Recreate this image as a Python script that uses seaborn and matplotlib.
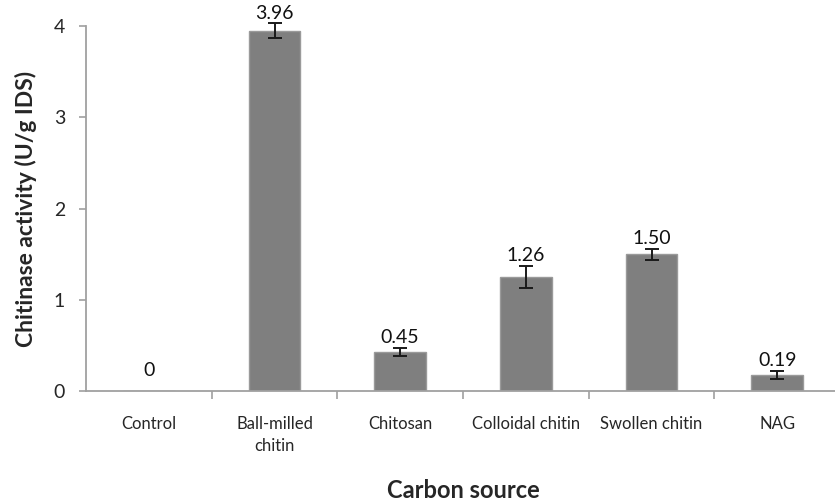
import matplotlib
matplotlib.use("Agg")
import matplotlib.pyplot as plt
import seaborn as sns
import pandas as pd
import numpy as np

categories = ["Control", "Ball-milled\nchitin", "Chitosan", "Colloidal chitin", "Swollen chitin", "NAG"]
activity = [0.0, 3.95, 0.43, 1.25, 1.50, 0.18]
errors = [0.0, 0.08, 0.045, 0.12, 0.06, 0.045]
value_labels = ["0", "3.96", "0.45", "1.26", "1.50", "0.19"]

sns.set_style("white")
plt.rcParams['font.family'] = ['Lato', 'DejaVu Sans']

df = pd.DataFrame({"source": categories, "activity": activity})

fig = plt.figure(figsize=(8.35, 5.04), dpi=100)
ax = fig.add_axes([0.103, 0.224, 0.903, 0.724])

sns.barplot(data=df, x="source", y="activity", color="#7f7f7f", width=0.41,
            edgecolor="#9a9a9a", linewidth=1.0, errorbar=None, ax=ax, saturation=1)

xs = np.arange(len(categories))
ax.errorbar(xs[1:], activity[1:], yerr=errors[1:], fmt="none", ecolor="#1a1a1a",
            elinewidth=1.4, capsize=4.7, capthick=1.4, clip_on=False, zorder=5)

for x, v, e, lab in zip(xs, activity, errors, value_labels):
    yy = v + e + 0.02 if v > 0 else 0.13
    ax.text(x, yy, lab, ha="center", va="bottom", fontsize=14, color="#111111",
            clip_on=False)

ax.set_xlim(-0.5, 5.5)
ax.set_ylim(0, 4)
ax.set_yticks([0, 1, 2, 3, 4])
ax.set_yticklabels(["0", "1", "2", "3", "4"], fontsize=14)

ax.set_xticks(xs)
ax.set_xticklabels(categories, fontsize=12, linespacing=1.45)
ax.tick_params(axis="x", which="major", length=0, pad=18)
ax.set_xticks(np.arange(0.5, 5.0, 1.0), minor=True)
ax.tick_params(axis="x", which="minor", length=6, width=1.2, color="#a0a0a0", direction="out", bottom=True)
ax.tick_params(axis="y", length=5, width=1.2, color="#a0a0a0", direction="out", left=True, pad=10)

for s in ["top", "right"]:
    ax.spines[s].set_visible(False)
for s in ["left", "bottom"]:
    ax.spines[s].set_color("#a0a0a0")
    ax.spines[s].set_linewidth(1.3)

ax.set_xlabel("")
fig.text(0.555, 1 - 491 / 504, "Carbon source", fontsize=17, fontweight="bold",
         ha="center", va="center")
ax.set_ylabel("Chitinase activity (U/g IDS)", fontsize=16.5, fontweight="bold", labelpad=12)

fig.savefig("out.png", dpi=100)
